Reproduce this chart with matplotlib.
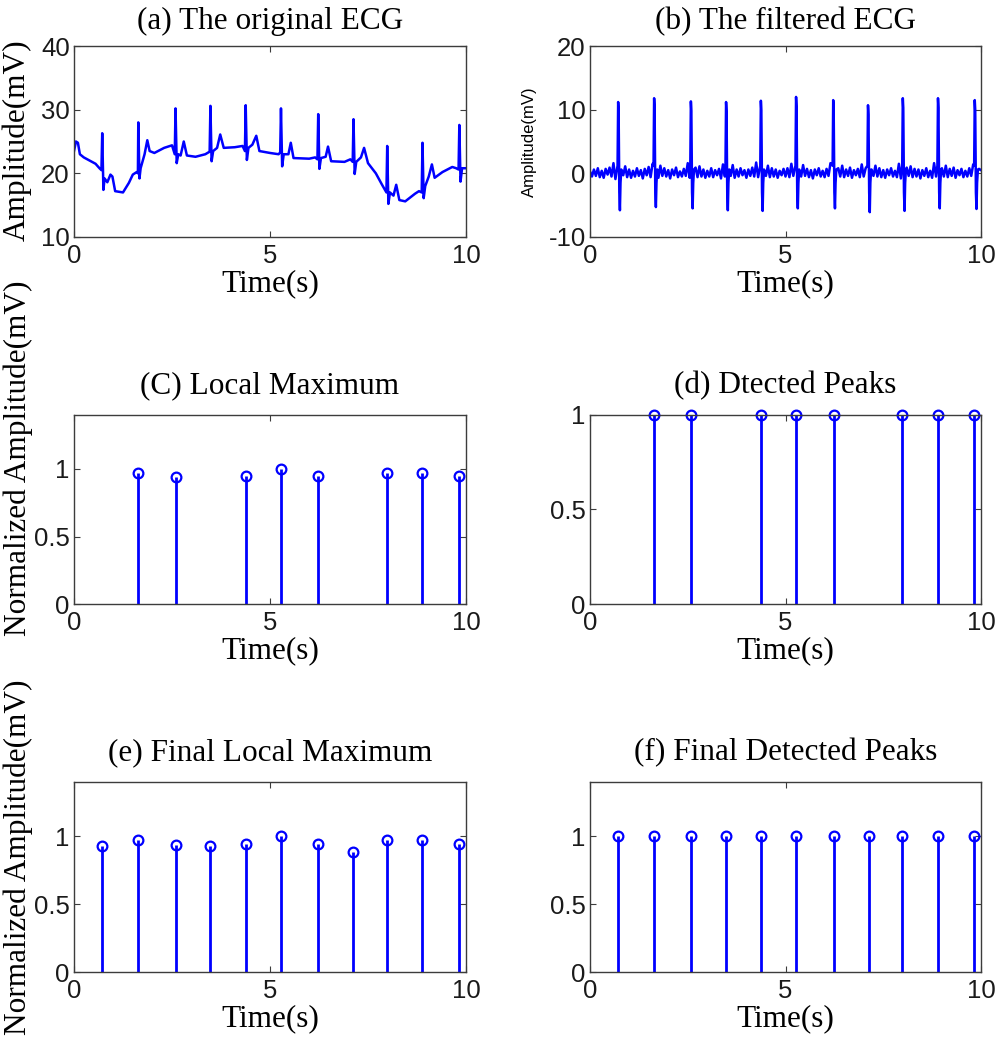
import numpy as np
import matplotlib
matplotlib.use('Agg')
import matplotlib.pyplot as plt

# ---- data ----
# (a) original ECG, hand-traced polyline (time s, amplitude mV)
ecg_a_time = [0.00, 0.05, 0.10, 0.15, 0.25, 0.40, 0.55, 0.65, 0.70, 0.72, 0.75, 0.78, 0.85, 0.93, 0.98,
              1.05, 1.25, 1.40, 1.50, 1.60, 1.63, 1.64, 1.67, 1.70, 1.80, 1.87, 1.93,
              2.05, 2.30, 2.50, 2.57, 2.59, 2.62, 2.66, 2.72, 2.80, 2.88,
              3.10, 3.35, 3.46, 3.48, 3.51, 3.55, 3.65, 3.73, 3.82,
              4.10, 4.30, 4.36, 4.38, 4.41, 4.45, 4.55, 4.65, 4.73,
              5.00, 5.22, 5.26, 5.28, 5.31, 5.35, 5.47, 5.53, 5.60,
              6.00, 6.15, 6.21, 6.23, 6.26, 6.30, 6.42, 6.48, 6.56,
              6.90, 7.05, 7.11, 7.13, 7.16, 7.20, 7.32, 7.40, 7.50,
              7.70, 7.85, 7.97, 7.99, 8.02, 8.06, 8.15, 8.22, 8.30,
              8.45, 8.70, 8.80, 8.87, 8.89, 8.92, 8.96, 9.05, 9.13, 9.20,
              9.40, 9.65, 9.75, 9.81, 9.83, 9.86, 9.90, 10.0]
ecg_a_mv = [23.5, 25.0, 24.8, 23.0, 22.5, 22.0, 21.5, 20.8, 20.5, 26.3, 17.4, 19.2, 18.6, 19.8, 19.5,
            17.2, 17.0, 18.5, 19.8, 20.2, 20.0, 28.0, 19.2, 20.8, 23.0, 25.2, 23.5,
            23.2, 24.0, 24.4, 23.0, 30.2, 21.6, 23.0, 22.8, 25.0, 22.8,
            22.6, 23.0, 23.4, 30.6, 21.9, 23.5, 24.0, 26.1, 24.0,
            24.1, 24.3, 23.5, 30.7, 22.1, 24.0, 24.5, 25.9, 23.5,
            23.2, 23.0, 23.3, 30.2, 21.1, 23.0, 23.0, 24.8, 22.4,
            22.3, 22.5, 22.2, 29.3, 20.7, 22.4, 22.6, 24.2, 21.9,
            21.8, 22.2, 21.8, 28.5, 19.9, 21.8, 22.5, 24.0, 21.6,
            20.0, 18.3, 17.0, 24.3, 15.2, 17.0, 16.5, 18.2, 15.8,
            15.6, 16.8, 17.2, 17.0, 24.8, 16.1, 18.0, 19.5, 21.4, 19.3,
            20.2, 21.0, 20.8, 20.6, 27.6, 18.7, 20.8, 20.8]

# (b) filtered ECG: baseline samples every 0.05 s, plus R peaks / S troughs
filt_base_mv = [0.3, -0.5, 0.6, -0.4, 0.8, -0.6, 0.4, -0.7, 0.7, -0.2,
                0.9, -0.5, 1.6, -0.9, -0.6, 0.5, 1.3, -0.3, 1.1, -0.6,
                0.6, -0.7, 0.4, -0.5, 0.8, -0.4, 0.5, -0.8, 0.7, -0.3,
                1.0, -0.6, 1.5, -1.0, 0.6, -0.7, 1.2, -0.4, 0.8, -0.5,
                0.5, -0.8, 0.6, -0.3, 0.9, -0.6, 0.3, -0.5, 0.7, -0.4,
                1.6, -0.7, -0.5, -0.9, 0.9, -0.6, 1.1, -0.5, 0.6, -0.7,
                0.4, -0.5, 0.8, -0.6, 0.5, -0.3, 0.7, -0.8, 1.4, -0.5,
                -0.6, 0.9, -0.4, 1.3, -0.7, 0.6, -0.5, 0.8, -0.3, 0.5,
                -0.7, 0.6, -0.4, 0.9, -0.5, 1.7, -0.6, -0.8, -0.5, 0.7,
                -0.4, 1.2, -0.6, 0.8, -0.5, 0.6, -0.7, 0.4, -0.3, 0.7,
                -0.5, 0.8, -0.6, 1.5, -0.4, -0.7, -0.6, 0.9, -0.5, 1.3,
                -0.4, 0.7, -0.6, 0.5, -0.8, 0.6, -0.3, 0.8, -0.5, 0.4,
                -0.6, 0.7, -0.4, 1.6, -0.8, -0.5, -0.7, 0.8, -0.5, 1.2,
                -0.6, 0.6, -0.4, 0.9, -0.7, 0.5, -0.3, 0.7, -0.6, 1.4,
                -0.5, 0.8, -0.7, -0.6, 0.6, -0.4, 1.2, -0.5, 0.8, -0.6,
                0.5, -0.7, 0.6, -0.3, 0.8, -0.5, 0.4, -0.6, 1.5, -0.8,
                -0.5, -0.7, 0.9, -0.4, 1.1, -0.6, 0.7, -0.5, 0.6, -0.8,
                0.5, -0.4, 0.8, -0.6, 0.4, -0.7, 1.6, -0.5, -0.7, -0.6,
                0.8, -0.5, 1.2, -0.6, 0.7, -0.4, 0.9, -0.7, 0.5, -0.3,
                0.7, -0.6, 0.4, -0.5, 0.8, -0.4, 1.4, -0.8, -0.6, 0.7,
                0.5]
beat_times = [0.72, 1.64, 2.58, 3.48, 4.37, 5.27, 6.22, 7.11, 8.00, 8.90, 9.84]
r_peak_mv = [11.2, 11.8, 11.3, 11.2, 11.4, 12.0, 11.5, 10.7, 11.8, 11.8, 11.5]
s_trough_mv = [-5.8, -5.3, -5.5, -5.8, -5.9, -5.5, -5.5, -6.1, -5.9, -5.5, -5.6]

# (c)/(d) local maxima after first pass
local_t = [1.64, 2.59, 4.38, 5.28, 6.23, 7.99, 8.89, 9.83]
local_amp = [0.973, 0.94, 0.948, 1.0, 0.948, 0.973, 0.973, 0.948]
detected_amp = [1, 1, 1, 1, 1, 1, 1, 1]

# (e)/(f) final local maxima
final_t = [0.72, 1.64, 2.59, 3.47, 4.38, 5.28, 6.23, 7.13, 7.99, 8.89, 9.83]
final_amp = [0.929, 0.971, 0.939, 0.929, 0.946, 1.0, 0.946, 0.885, 0.971, 0.971, 0.946]
final_detected = [1, 1, 1, 1, 1, 1, 1, 1, 1, 1, 1]

SERIF = 'Liberation Serif'
SANS = 'Liberation Sans'
BLUE = '#0000ff'
EDGE = '#3c3c3c'
TITLE_FS = 22.5
TICK_FS = 18.5


def style_axes(ax, ylim, yticks, yticklabels, title, pad):
    ax.set_xlim(0, 10)
    ax.set_ylim(*ylim)
    ax.set_xticks([0, 5, 10])
    ax.set_xticklabels(['0', '5', '10'], fontfamily=SANS, fontsize=TICK_FS)
    ax.set_yticks(yticks)
    ax.set_yticklabels(yticklabels, fontfamily=SANS, fontsize=TICK_FS)
    ax.tick_params(direction='in', top=True, right=True, length=4, width=0.8,
                   color=EDGE, labelcolor='#1a1a1a')
    ax.tick_params(axis='x', pad=5)
    ax.tick_params(axis='y', pad=3)
    for s in ax.spines.values():
        s.set_color(EDGE)
        s.set_linewidth(1.0)
    ax.set_title(title, fontfamily=SERIF, fontsize=TITLE_FS, pad=pad)
    ax.set_xlabel('Time(s)', fontfamily=SERIF, fontsize=TITLE_FS, labelpad=1)


def draw_stem(ax, t, amp, clip=True):
    markers, stems, base = ax.stem(t, amp, linefmt='-', markerfmt='o', basefmt=' ')
    stems.set_color(BLUE)
    stems.set_linewidth(2.0)
    markers.set_markerfacecolor('none')
    markers.set_markeredgecolor(BLUE)
    markers.set_markersize(7)
    markers.set_markeredgewidth(1.6)
    markers.set_clip_on(clip)


fig = plt.figure(figsize=(9.96, 10.5), dpi=100)
W, H = 996.0, 1050.0


def add_ax(left, top, right, bottom):
    return fig.add_axes([left / W, 1 - bottom / H, (right - left) / W, (bottom - top) / H])


# (a)
ax_a = add_ax(74, 46, 466, 237)
ax_a.plot(ecg_a_time, ecg_a_mv, color=BLUE, lw=1.8)
style_axes(ax_a, (10, 40), [10, 20, 30, 40], ['10', '20', '30', '40'],
           '(a) The original ECG', 12)
fig.text(17 / W, 1 - 140 / H, 'Amplitude(mV)', rotation=90, ha='center', va='center',
         fontfamily=SERIF, fontsize=TITLE_FS)

# (b) assemble the filtered trace from baseline samples and beat complexes
base_t = np.arange(len(filt_base_mv)) * 0.05
keep = np.ones(len(base_t), dtype=bool)
for tb in beat_times:
    keep &= ~((base_t > tb - 0.03) & (base_t < tb + 0.09))
trace_t = list(base_t[keep])
trace_v = list(np.array(filt_base_mv)[keep])
for tb, rp, st in zip(beat_times, r_peak_mv, s_trough_mv):
    trace_t += [tb - 0.015, tb, tb + 0.012, tb + 0.03, tb + 0.045, tb + 0.06, tb + 0.08]
    trace_v += [1.2, rp, rp - 1.5, -3.0, st, -1.5, 0.6]
order = np.argsort(trace_t)
ax_b = add_ax(590, 46, 981, 237)
ax_b.plot(np.array(trace_t)[order], np.array(trace_v)[order], color=BLUE, lw=1.8)
style_axes(ax_b, (-10, 20), [-10, 0, 10, 20], ['-10', '0', '10', '20'],
           '(b) The filtered ECG', 12)
fig.text(529 / W, 1 - 142 / H, 'Amplitude(mV)', rotation=90, ha='center', va='center',
         fontfamily=SANS, fontsize=12)

# (c)
ax_c = add_ax(74, 415, 466, 604)
draw_stem(ax_c, local_t, local_amp)
style_axes(ax_c, (0, 1.4), [0, 0.5, 1], ['0', '0.5', '1'], '(C) Local Maximum', 16)
fig.text(18 / W, 1 - 458 / H, 'Normalized Amplitude(mV)', rotation=90, ha='center',
         va='center', fontfamily=SERIF, fontsize=TITLE_FS)

# (d)
ax_d = add_ax(590, 415, 981, 604)
draw_stem(ax_d, local_t, detected_amp, clip=False)
style_axes(ax_d, (0, 1), [0, 0.5, 1], ['0', '0.5', '1'], '(d) Dtected Peaks', 16)

# (e)
ax_e = add_ax(74, 782, 466, 972)
draw_stem(ax_e, final_t, final_amp)
style_axes(ax_e, (0, 1.4), [0, 0.5, 1], ['0', '0.5', '1'], '(e) Final Local Maximum', 16)
fig.text(18 / W, 1 - 857 / H, 'Normalized Amplitude(mV)', rotation=90, ha='center',
         va='center', fontfamily=SERIF, fontsize=TITLE_FS)

# (f)
ax_f = add_ax(590, 782, 981, 972)
draw_stem(ax_f, final_t, final_detected)
style_axes(ax_f, (0, 1.4), [0, 0.5, 1], ['0', '0.5', '1'], '(f) Final Detected Peaks', 16)

fig.savefig('out.png', dpi=100)
